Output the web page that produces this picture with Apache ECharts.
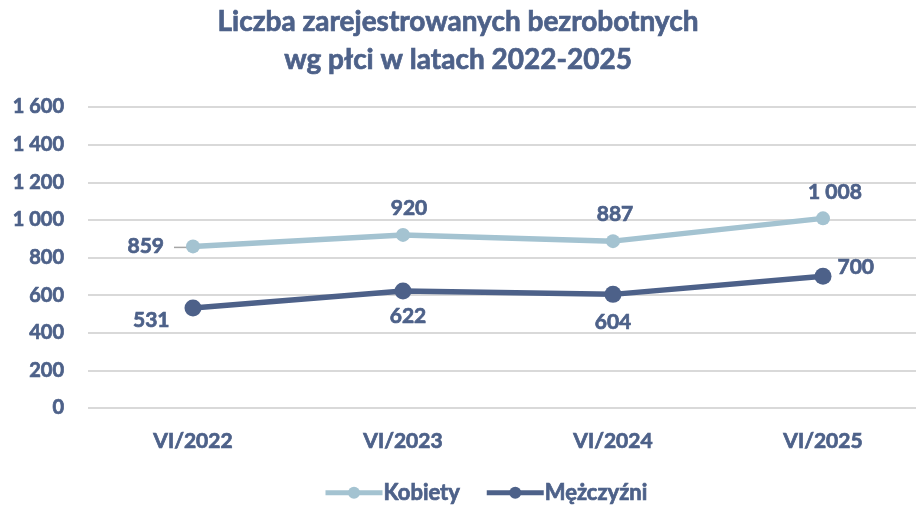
<!DOCTYPE html>
<html><head><meta charset="utf-8">
<script src="https://cdn.jsdelivr.net/npm/echarts@6/dist/echarts.min.js"></script>
<style>html,body{margin:0;padding:0;background:#fff}#c{width:916px;height:507px}</style>
</head><body><div id="c"></div>
<script>
const categories = ['VI/2022','VI/2023','VI/2024','VI/2025'];
const kobiety = [859, 920, 887, 1008];
const mezczyzni = [531, 622, 604, 700];
const yTicks = [0,200,400,600,800,1000,1200,1400,1600];

const DARK = '#4d6189';
const LIGHT = '#a4c3d1';
const TXT = '#4d6189';
const FONT = 'Lato';
const THICK = {textBorderColor:TXT, textBorderWidth:0.7};

function fmt(v){ return String(v).replace(/\B(?=(\d{3})+(?!\d))/g,' '); }

const kLabel = [
  {position:'left', distance:22},
  {position:'top', distance:9, offset:[6,0]},
  {position:'top', distance:9, offset:[2,0]},
  {position:'top', distance:9, offset:[12,0]}
];
const mLabel = [
  {position:'left', distance:15, offset:[0,12]},
  {position:'bottom', distance:6, offset:[5,0]},
  {position:'bottom', distance:9},
  {position:'right', distance:6, offset:[0,-9]}
];

const chart = echarts.init(document.getElementById('c'), null, {renderer:'canvas'});
chart.setOption({
  animation:false,
  backgroundColor:'#fff',
  title:{
    text:'Liczba zarejestrowanych bezrobotnych\nwg płci w latach 2022-2025',
    left:'center', top:-2,
    textStyle:Object.assign({fontFamily:FONT, fontWeight:'bold', fontSize:28, color:TXT, lineHeight:38}, THICK)
  },
  legend:{
    bottom:-2, left:318, itemWidth:57, itemHeight:15, itemGap:24,
    lineStyle:{width:5},
    textStyle:Object.assign({fontFamily:FONT, fontWeight:'bold', fontSize:22, color:TXT, padding:[0,0,0,-4]}, THICK),
    data:['Kobiety','Mężczyźni']
  },
  grid:{left:88, width:840, top:107, bottom:99, containLabel:false, outerBoundsMode:'none'},
  xAxis:{
    type:'category', data:categories, boundaryGap:true,
    axisLine:{show:false}, axisTick:{show:false},
    axisLabel:Object.assign({fontFamily:FONT, fontWeight:'bold', fontSize:21, color:TXT, margin:23}, THICK)
  },
  yAxis:{
    type:'value', min:yTicks[0], max:yTicks[yTicks.length-1], interval:200,
    axisLine:{show:false}, axisTick:{show:false},
    splitLine:{lineStyle:{color:'#d9d9d9', width:2}},
    axisLabel:Object.assign({fontFamily:FONT, fontWeight:'bold', fontSize:20, color:TXT, margin:24, formatter:v=>fmt(v)}, THICK)
  },
  series:[
    {
      name:'Kobiety', type:'line', data:kobiety.map((v,i)=>({value:v, label:kLabel[i]})),
      symbol:'circle', symbolSize:14, z:3, lineStyle:{color:LIGHT, width:5.5}, itemStyle:{color:LIGHT},
      label:Object.assign({show:true, fontFamily:FONT, fontWeight:'bold', fontSize:21, color:TXT, formatter:p=>fmt(p.value)}, THICK)
    },
    {
      name:'Mężczyźni', type:'line', data:mezczyzni.map((v,i)=>({value:v, label:mLabel[i]})),
      symbol:'circle', symbolSize:17, z:3, lineStyle:{color:DARK, width:5.5}, itemStyle:{color:DARK},
      label:Object.assign({show:true, fontFamily:FONT, fontWeight:'bold', fontSize:21, color:TXT, formatter:p=>fmt(p.value)}, THICK)
    }
  ]
});
// leader line for the first Kobiety label, anchored via the chart's own scales
const p0 = chart.convertToPixel({seriesIndex:0}, [0, kobiety[0]]);
chart.setOption({
  graphic:[{type:'line', z:1, shape:{x1:p0[0]-19, y1:p0[1]+1, x2:p0[0], y2:p0[1]+1},
    style:{stroke:'#a6a6a6', lineWidth:1.5}}]
});
</script></body></html>
